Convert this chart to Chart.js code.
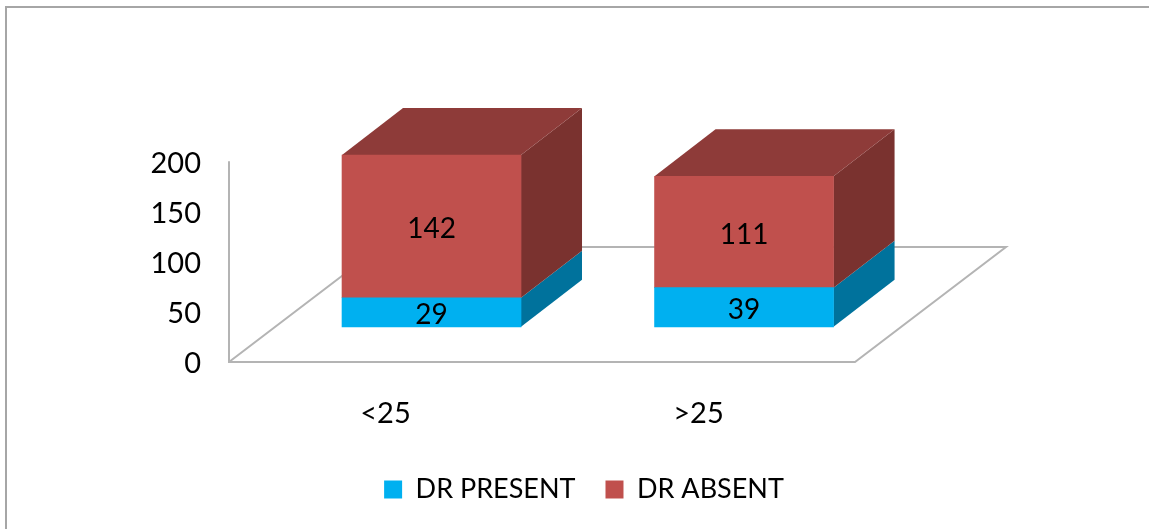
<!DOCTYPE html>
<html>
<head>
<meta charset="utf-8">
<title>DR by age group</title>
<script src="https://cdn.jsdelivr.net/npm/chart.js@4"></script>
<style>
    html, body { margin: 0; padding: 0; background: #fff; overflow: hidden; }
    #frame { position: absolute; left: 5px; top: 6px; right: 0; bottom: 0; border-left: 2px solid #a6a6a6; border-top: 2px solid #a6a6a6; }
    #dr { position: absolute; left: 0; top: 0; }
</style>
</head>
<body>
<div id="frame"></div>
<canvas id="dr" width="1149" height="529"></canvas>
<script>
const ageGroups = ['<25', '>25'];
const barSlots = [0, 1];
const drPresent = [29, 39];
const drAbsent = [142, 111];
const yTickStep = 50;
const yTickTop = 200;

const AXIS_FONT = { family: 'Lato', size: 29 };
const LEGEND_FONT = { family: 'Lato', size: 27 };
const VALUE_FONT = '28px Lato';
// how far the back of each box sits from its front face
const BOX_DEPTH = { x: 61, y: -47 };
const FLOOR_DEPTH = { x: 151, y: -115 };
const LINE_GRAY = '#b4b4b4';

function polygon(ctx, pts, color) {
    ctx.fillStyle = color;
    ctx.beginPath();
    pts.forEach(function (p, i) { i ? ctx.lineTo(p[0], p[1]) : ctx.moveTo(p[0], p[1]); });
    ctx.closePath();
    ctx.fill();
}

// floor, back wall line and the box sides are not something bar charts do by themselves
const fake3d = {
    id: 'fake3d',
    beforeDatasetsDraw(chart) {
        const ctx = chart.ctx;
        const a = chart.chartArea;
        const wallTop = chart.scales.yTicks.getPixelForValue(yTickTop);

        ctx.save();
        ctx.strokeStyle = LINE_GRAY;
        ctx.lineWidth = 2;
        ctx.lineJoin = 'miter';
        ctx.beginPath();
        ctx.moveTo(a.left, wallTop);
        ctx.lineTo(a.left, a.bottom);
        ctx.lineTo(a.right, a.bottom);
        ctx.lineTo(a.right + FLOOR_DEPTH.x, a.bottom + FLOOR_DEPTH.y);
        ctx.lineTo(a.left + FLOOR_DEPTH.x, a.bottom + FLOOR_DEPTH.y);
        ctx.lineTo(a.left, a.bottom);
        ctx.stroke();

        chart.data.datasets.forEach(function (ds, i) {
            chart.getDatasetMeta(i).data.forEach(function (bar) {
                const right = bar.x + bar.width / 2;
                polygon(ctx, [
                    [right, bar.base],
                    [right + BOX_DEPTH.x, bar.base + BOX_DEPTH.y],
                    [right + BOX_DEPTH.x, bar.y + BOX_DEPTH.y],
                    [right, bar.y]
                ], ds.sideColor);
            });
        });

        // only the upper series shows a lid
        const last = chart.data.datasets.length - 1;
        chart.getDatasetMeta(last).data.forEach(function (bar) {
            const left = bar.x - bar.width / 2;
            const right = bar.x + bar.width / 2;
            polygon(ctx, [
                [left, bar.y],
                [left + BOX_DEPTH.x, bar.y + BOX_DEPTH.y],
                [right + BOX_DEPTH.x, bar.y + BOX_DEPTH.y],
                [right, bar.y]
            ], chart.data.datasets[last].topColor);
        });
        ctx.restore();
    },
    afterDatasetsDraw(chart) {
        const ctx = chart.ctx;
        ctx.save();
        ctx.fillStyle = '#000';
        ctx.font = VALUE_FONT;
        ctx.textAlign = 'center';
        ctx.textBaseline = 'middle';
        chart.data.datasets.forEach(function (ds, i) {
            chart.getDatasetMeta(i).data.forEach(function (bar, j) {
                ctx.fillText(ds.data[j].y, bar.x, (bar.y + bar.base) / 2 + 3);
            });
        });
        ctx.restore();
    }
};

function series(values) {
    return values.map(function (v, i) { return { x: barSlots[i], y: v }; });
}

new Chart(document.getElementById('dr'), {
    type: 'bar',
    data: {
        datasets: [
            {
                label: 'DR PRESENT',
                data: series(drPresent),
                backgroundColor: '#00b0f0',
                sideColor: '#00729c',
                xAxisID: 'xBars',
                yAxisID: 'yBars',
                barThickness: 179
            },
            {
                label: 'DR ABSENT',
                data: series(drAbsent),
                backgroundColor: '#c0504d',
                sideColor: '#7a322f',
                topColor: '#8e3b39',
                xAxisID: 'xBars',
                yAxisID: 'yBars',
                barThickness: 179
            }
        ]
    },
    plugins: [fake3d],
    options: {
        responsive: false,
        animation: false,
        layout: { padding: { left: 19, right: 0, top: 126, bottom: 16 } },
        plugins: {
            tooltip: { enabled: false },
            legend: {
                position: 'bottom',
                labels: { boxWidth: 18, boxHeight: 18, padding: 30, color: '#000', font: LEGEND_FONT }
            }
        },
        scales: {
            // the visible axes belong to the floor's front edge
            xLabels: {
                axis: 'x',
                type: 'category',
                position: 'bottom',
                labels: ageGroups,
                offset: true,
                grid: { display: false },
                border: { display: false },
                ticks: { color: '#000', font: AXIS_FONT, padding: 26, maxRotation: 0 },
                afterFit(scale) { scale.height = 84; }
            },
            yTicks: {
                axis: 'y',
                type: 'linear',
                position: 'left',
                min: 0,
                max: 235,
                grid: { display: false },
                border: { display: false },
                ticks: { stepSize: yTickStep, includeBounds: false, color: '#000', font: AXIS_FONT, padding: 20, labelOffset: 2 },
                afterFit(scale) { scale.width = 210; }
            },
            // the boxes stand further back on the floor, so they get their own scales
            xBars: {
                axis: 'x',
                type: 'linear',
                display: false,
                stacked: true,
                offset: false,
                min: -0.648,
                max: 1.355
            },
            yBars: {
                axis: 'y',
                type: 'linear',
                position: 'right',
                stacked: true,
                min: -35,
                max: 200,
                grid: { display: false },
                border: { display: false },
                ticks: { display: false },
                afterFit(scale) { scale.width = 294; }
            }
        }
    }
});
</script>
</body>
</html>
